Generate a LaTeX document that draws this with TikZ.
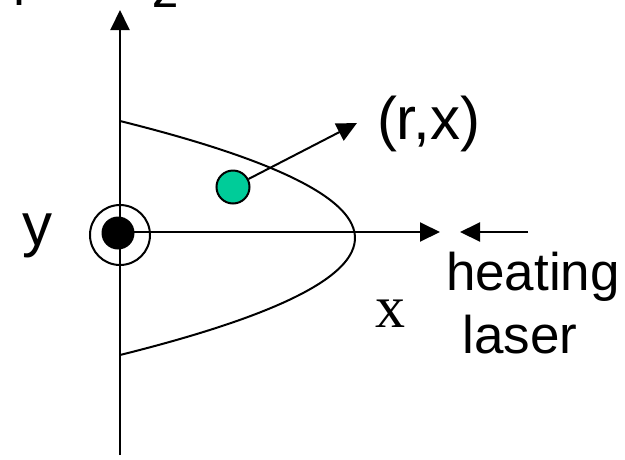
\documentclass[tikz,border=0pt]{standalone}
\usepackage{fontspec}
\setmainfont{Liberation Sans}
\newfontfamily\timesfont{Liberation Serif}
\usepackage{tikz}
\usetikzlibrary{arrows.meta, positioning}
\definecolor{dotgreen}{RGB}{0, 204, 153}

\begin{document}
\begin{tikzpicture}[x=1pt, y=-1pt, line width=2pt,
    lbl/.style={font=\fontsize{53}{58}\selectfont, inner sep=0pt},
    axisarrow/.style={-{Triangle[length=20pt, width=19pt]}}]
    \useasboundingbox (0,0) rectangle (625,459);

    % Origin and axes ends
    \coordinate (O) at (120,235);
    \coordinate (zbot) at (120,455);
    \coordinate (ztip) at (120,10);
    \coordinate (xtip) at (440,232);

    % Axes
    \draw[axisarrow] (zbot) -- (ztip);
    \draw[axisarrow] (O |- xtip) -- (xtip);

    % y axis pointing out of the page
    \node[circle, draw, minimum size=60pt, inner sep=0pt] (ring) at (O) {};
    \fill (118,233) circle (16.5pt);

    % Profile curve
    \draw[domain=-117:117, samples=60, smooth] plot ({355 - 0.01717*\x*\x}, {238 + \x});

    % Sample point and its label
    \node[circle, draw, fill=dotgreen, minimum size=33pt, inner sep=0pt] (pt) at (233,187) {};
    \coordinate (rxtip) at (357,123);
    \draw[axisarrow] (pt) -- (rxtip);
    \node[lbl, font=\fontsize{60}{64}\selectfont, anchor=west] (rx) at (376,124) {(r,x)};

    % Heating laser
    \coordinate (ltail) at (528,232);
    \coordinate (lhead) at (460,232);
    \draw[axisarrow] (ltail) -- (lhead);
    \node[lbl, anchor=base] (heating) at (533,290) {heating};
    \node[lbl, anchor=base] (laser) at (520,353) {laser};

    % Axis labels
    \node[lbl, font=\fontsize{60}{64}\selectfont] (ylab) at (37,236) {y};
    \node[lbl, font=\fontsize{60}{64}\timesfont] (xlab) at (390,314) {x};
    \node[lbl, anchor=base] (rlab) at (22,5) {r};
    \node[lbl, anchor=base] (zlab) at (166,7) {z};
\end{tikzpicture}
\end{document}
